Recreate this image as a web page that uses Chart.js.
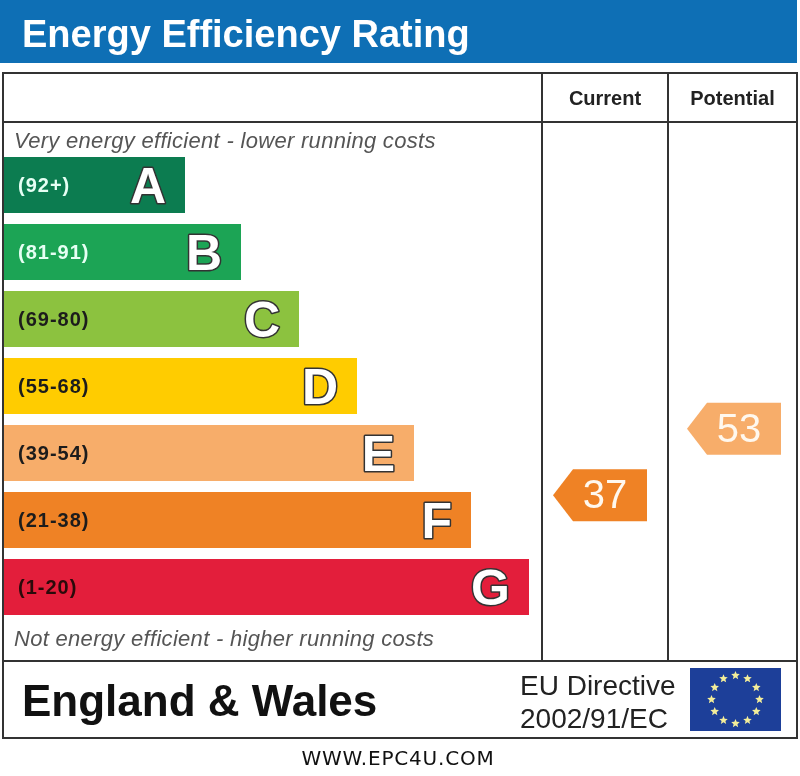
<!DOCTYPE html>
<html><head><meta charset="utf-8">
<script src="https://cdn.jsdelivr.net/npm/chart.js@4"></script>
<style>html,body{margin:0;padding:0;background:#fff}#wrap{width:800px;height:776px}</style>
</head><body><div id="wrap"><canvas id="c" width="800" height="776"></canvas></div>
<script>
// ---- data ----
const bands = ['A','B','C','D','E','F','G'];
const bandRanges = ['(92+)','(81-91)','(69-80)','(55-68)','(39-54)','(21-38)','(1-20)'];
const bandMin = [92,81,69,55,39,21,1];
const bandMax = [100,91,80,68,54,38,20];
const barLengths = [181,237,295,353,410,467,525];
const ratingColumns = ['Current','Potential'];
const ratingValues = [37,53];
const titleText = 'Energy Efficiency Rating';
const topNote = 'Very energy efficient - lower running costs';
const bottomNote = 'Not energy efficient - higher running costs';
const regionText = 'England & Wales';
const directiveLines = ['EU Directive','2002/91/EC'];
const urlText = 'WWW.EPC4U.COM';

// ---- styles ----
const bandColors = ['#0c7c50','#1ca455','#8cc23f','#ffcc00','#f7ad6a','#ef8225','#e31e3b'];
const labelColors = ['#e6fff4','#e6fff4','#1c1c1c','#1c1c1c','#1c1c1c','#1c1c1c','#2a0a0a'];
const F = '"Liberation Sans", Arial, sans-serif';
const colX = [542, 668, 797];
const arrowLeft = [553, 687];
const arrowW = 94, arrowH = 52, tipW = 20, barH = 56;

function star(ctx, cx, cy, r){
  ctx.beginPath();
  for(let i=0;i<10;i++){
    const a = -Math.PI/2 + i*Math.PI/5;
    const rr = i%2===0 ? r : r*0.45;
    ctx.lineTo(cx+rr*Math.cos(a), cy+rr*Math.sin(a));
  }
  ctx.closePath(); ctx.fill();
}

const epcPlugin = {
  id:'epc',
  beforeDraw(chart){
    const ctx = chart.ctx;
    ctx.save();
    ctx.fillStyle='#fff'; ctx.fillRect(0,0,800,776);
    // header
    ctx.fillStyle='#0e6fb5'; ctx.fillRect(0,0,797,63);
    ctx.fillStyle='#fff'; ctx.font='bold 38px '+F; ctx.textBaseline='alphabetic'; ctx.textAlign='left';
    ctx.fillText(titleText, 22, 47);
    // table
    ctx.strokeStyle='#333'; ctx.lineWidth=2;
    ctx.strokeRect(3,73,794,665);
    ctx.beginPath();
    ctx.moveTo(3,122); ctx.lineTo(797,122);
    ctx.moveTo(3,661); ctx.lineTo(797,661);
    ctx.moveTo(colX[0],73); ctx.lineTo(colX[0],661);
    ctx.moveTo(colX[1],73); ctx.lineTo(colX[1],661);
    ctx.stroke();
    // column headers
    ctx.fillStyle='#222'; ctx.font='bold 20px '+F; ctx.textAlign='center';
    for(let i=0;i<ratingColumns.length;i++){
      ctx.fillText(ratingColumns[i], (colX[i]+colX[i+1])/2, 105);
    }
    // notes
    ctx.fillStyle='#555'; ctx.font='italic 22px '+F; ctx.textAlign='left';
    ctx.letterSpacing='0.3px';
    ctx.fillText(topNote, 14, 148);
    ctx.fillText(bottomNote, 14, 646);
    ctx.letterSpacing='0px';
    // footer
    ctx.fillStyle='#111'; ctx.font='bold 44px '+F;
    ctx.fillText(regionText, 22, 716);
    ctx.font='28px '+F; ctx.fillStyle='#222';
    ctx.fillText(directiveLines[0], 520, 695);
    ctx.fillText(directiveLines[1], 520, 728);
    // flag
    ctx.fillStyle='#1d3f99'; ctx.fillRect(690,668,91,63);
    ctx.fillStyle='#f4ee9a';
    for(let i=0;i<12;i++){
      const a = i*Math.PI/6;
      star(ctx, 735.5+24*Math.sin(a), 699.5-24*Math.cos(a), 4.5);
    }
    // url
    ctx.fillStyle='#111'; ctx.font='20px "DejaVu Sans", sans-serif'; ctx.textAlign='center';
    ctx.letterSpacing='0.8px';
    ctx.fillText(urlText, 398, 765);
    ctx.letterSpacing='0px';
    ctx.restore();
  },
  afterDatasetsDraw(chart){
    const ctx = chart.ctx;
    const meta = chart.getDatasetMeta(0);
    const yScale = chart.scales.y;
    ctx.save();
    meta.data.forEach((bar,i)=>{
      const cy = bar.y;
      ctx.textBaseline='middle'; ctx.textAlign='left';
      ctx.font='bold 20px '+F; ctx.fillStyle=labelColors[i];
      ctx.letterSpacing='1px';
      ctx.fillText(bandRanges[i], 18, cy+1);
      ctx.letterSpacing='0px';
      ctx.font='bold 50px '+F; ctx.textAlign='right'; ctx.textBaseline='alphabetic';
      ctx.lineJoin='round'; ctx.lineWidth=3; ctx.strokeStyle='#333';
      ctx.strokeText(bands[i], bar.x-19, cy+18);
      ctx.fillStyle='#fff';
      ctx.fillText(bands[i], bar.x-19, cy+18);
    });
    // rating arrows
    ratingValues.forEach((v,k)=>{
      const bi = bandMin.findIndex((m,i)=>v>=m && v<=bandMax[i]);
      const frac = (v-bandMin[bi])/(bandMax[bi]-bandMin[bi]);
      const cy = yScale.getPixelForValue(bi) + (0.5-frac)*barH;
      const x0 = arrowLeft[k], x1 = x0+arrowW;
      ctx.fillStyle = bandColors[bi];
      ctx.beginPath();
      ctx.moveTo(x0, cy);
      ctx.lineTo(x0+tipW, cy-arrowH/2);
      ctx.lineTo(x1, cy-arrowH/2);
      ctx.lineTo(x1, cy+arrowH/2);
      ctx.lineTo(x0+tipW, cy+arrowH/2);
      ctx.closePath(); ctx.fill();
      ctx.fillStyle='#fff8ee'; ctx.font='40px '+F; ctx.textAlign='center'; ctx.textBaseline='middle';
      ctx.fillText(String(v), (x0+x1)/2+5, cy+2);
    });
    ctx.restore();
  }
};

new Chart(document.getElementById('c'), {
  type:'bar',
  data:{ labels: bands, datasets:[{ data: barLengths, backgroundColor: bandColors, borderWidth:0,
    categoryPercentage:1, barPercentage:56/67 }]},
  options:{
    indexAxis:'y', responsive:false, devicePixelRatio:1, animation:false,
    layout:{ padding:{ left:4, right:4, top:151.5, bottom:155.5 } },
    plugins:{ legend:{display:false}, tooltip:{enabled:false}, title:{display:false} },
    scales:{ x:{ display:false, min:0, max:792 }, y:{ display:false } }
  },
  plugins:[epcPlugin]
});
</script></body></html>
